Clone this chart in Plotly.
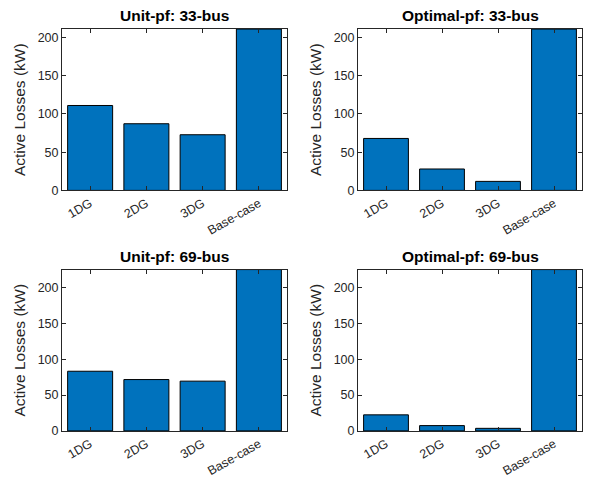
import plotly.graph_objects as go

categories = ["1DG", "2DG", "3DG", "Base-case"]
unit_33 = [111.03, 87.17, 72.79, 210.98]
opt_33 = [67.95, 28.0, 11.8, 210.98]
unit_69 = [83.2, 71.6, 69.4, 224.95]
opt_69 = [22.4, 7.4, 3.6, 224.95]
titles = ["Unit-pf: 33-bus", "Optimal-pf: 33-bus", "Unit-pf: 69-bus", "Optimal-pf: 69-bus"]
series = [unit_33, opt_33, unit_69, opt_69]
ymax = [210.98, 210.98, 224.95, 224.95]

W, H = 593, 479
H_EFF = 471  # height the paper actually occupies in the captured page
boxes = [(62, 287, 29, 190), (358, 582, 29, 190), (62, 287, 269, 430), (358, 582, 269, 430)]

fig = go.Figure()
font = "Liberation Sans, Arial, sans-serif"
for i, (vals, t, ym, b) in enumerate(zip(series, titles, ymax, boxes)):
    n = "" if i == 0 else str(i + 1)
    x0, x1, y0, y1 = b
    fig.add_trace(go.Bar(x=categories, y=vals, width=0.8, xaxis="x" + n, yaxis="y" + n,
                         marker=dict(color="#0072BD", line=dict(color="#000000", width=1)),
                         showlegend=False))
    common = dict(showline=True, linecolor="#262626", linewidth=1, mirror="ticks",
                  ticks="inside", ticklen=4, tickcolor="#262626", showgrid=False, zeroline=False,
                  tickfont=dict(family=font, size=12.5, color="#262626"))
    fig.layout["xaxis" + n] = dict(common, domain=[x0 / W, x1 / W], anchor="y" + n,
                                  range=[-0.5, 3.5], tickangle=-30, type="category")
    fig.layout["yaxis" + n] = dict(common, domain=[1 - y1 / H_EFF, 1 - y0 / H_EFF], anchor="x" + n,
                                  range=[0, ym], tickvals=[0, 50, 100, 150, 200],
                                  title=dict(text="Active Losses (kW)", standoff=8,
                                             font=dict(family=font, size=15.5, color="#262626")))
    fig.add_annotation(text="<b>" + t + "</b>", xref="paper", yref="paper",
                       x=(x0 + x1) / 2 / W, y=1 - (y0 - 3) / H_EFF, xanchor="center", yanchor="bottom",
                       showarrow=False, font=dict(family=font, size=15.5, color="#000000"))

fig.update_layout(width=W, height=H, margin=dict(l=0, r=0, t=0, b=0),
                  paper_bgcolor="white", plot_bgcolor="white", bargap=0.2)
fig.write_html("out.html", config={"displayModeBar": False},
               post_script="document.body.style.margin='0';document.body.style.overflow='hidden';")
